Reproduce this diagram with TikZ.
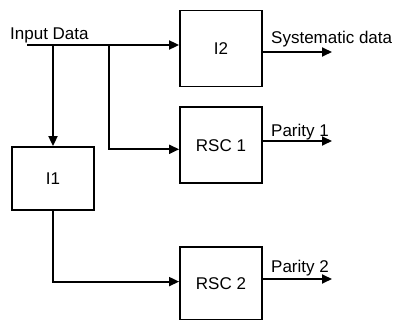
\documentclass[tikz,border=0pt]{standalone}
\usepackage{fontspec}
\setmainfont{Liberation Sans}
\usetikzlibrary{positioning,arrows.meta}
\tikzset{node distance=19pt,
  block/.style={draw, line width=1.8pt, minimum width=82pt, minimum height=76pt},
  wire/.style={line width=1.8pt},
  feed/.style={wire, -{Triangle[length=10pt,width=9pt]}}}

\begin{document}
\begin{tikzpicture}[x=1pt, y=-1pt, font=\fontsize{17}{20}\selectfont]
  \useasboundingbox (0,0) rectangle (398,320);

  % encoder blocks
  \node (I2) [block] at (221,48.5) {I2};
  \node (RSC1) [block, below=of I2] {RSC 1};
  \node (RSC2) [block, minimum height=73pt, below=62pt of RSC1] {RSC 2};
  \node (I1) [block, minimum height=63pt] at (53,178.5) {I1};

  % input bus
  \node (in) [anchor=base west, inner sep=0pt] at (10,40) {Input Data};
  \coordinate (src) at (27,45);
  \coordinate (tap) at (109,45);

  \draw [feed] (src) -- (src -| I2.west);
  \draw [feed] (src -| I1) -- (I1.north);
  \draw [feed] (tap) |- ([yshift=-4pt]RSC1.west);
  \draw [feed] (I1.south) |- ([yshift=2pt]RSC2.west);

  % outputs
  \coordinate (sysout) at (332,52);
  \coordinate (p1out) at (332,141);
  \coordinate (p2out) at (332,279);
  \draw [feed] (I2.east |- sysout) -- (sysout);
  \draw [feed] (RSC1.east |- p1out) -- (p1out);
  \draw [feed] (RSC2.east |- p2out) -- (p2out);

  \node (sys) [anchor=base west, inner sep=0pt] at (271,44) {Systematic data};
  \node (par1) [anchor=base west, inner sep=0pt] at (271,137) {Parity 1};
  \node (par2) [anchor=base west, inner sep=0pt] at (271,272) {Parity 2};
\end{tikzpicture}
\end{document}
